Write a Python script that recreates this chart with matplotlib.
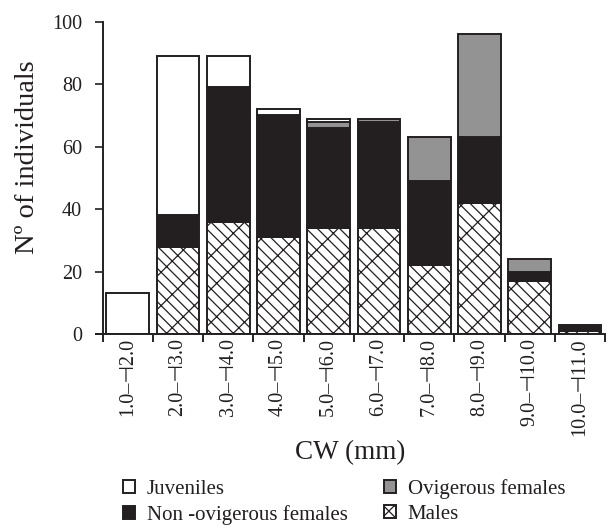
import numpy as np
import matplotlib

matplotlib.use("Agg")
import matplotlib.pyplot as plt
from matplotlib.patches import Patch

plt.rcParams["font.family"] = ["Liberation Serif", "DejaVu Sans"]
plt.rcParams["hatch.linewidth"] = 0.9

classes = ["1.0\u2013\u22a32.0", "2.0\u2013\u22a33.0", "3.0\u2013\u22a34.0", "4.0\u2013\u22a35.0",
           "5.0\u2013\u22a36.0", "6.0\u2013\u22a37.0", "7.0\u2013\u22a38.0", "8.0\u2013\u22a39.0",
           "9.0\u2013\u22a310.0", "10.0\u2013\u22a311.0"]
males = [0, 28, 36, 31, 34, 34, 22, 42, 17, 1]
non_ovigerous = [0, 10, 43, 39, 32, 34, 27, 21, 3, 2]
ovigerous = [0, 0, 0, 0, 2, 1, 14, 33, 4, 0]
juveniles = [13, 51, 10, 2, 1, 0, 0, 0, 0, 0]

EDGE = "#231f20"
BLACK = "#231f20"
GREY = "#939393"

fig = plt.figure(figsize=(6.11, 5.26), dpi=100)
ax = fig.add_axes([0.1566, 0.365, 0.8336, 0.5935])

x = np.arange(len(classes)) + 0.5
width = 0.85
bottom = np.zeros(len(classes))
layers = [
    (males, "white", "\\\\\\/"),
    (non_ovigerous, BLACK, None),
    (ovigerous, GREY, None),
    (juveniles, "white", None),
]
for values, face, hatch in layers:
    values = np.array(values, dtype=float)
    keep = values > 0
    ax.bar(x[keep], values[keep], width, bottom=bottom[keep], color=face,
           edgecolor=EDGE, linewidth=1.4, hatch=hatch, zorder=2)
    bottom += values

ax.set_xlim(-0.14, 10.0)
ax.set_ylim(0, 100)
ax.spines["top"].set_visible(False)
ax.spines["right"].set_visible(False)
ax.spines["left"].set_position(("data", 0))
for side in ("left", "bottom"):
    ax.spines[side].set_linewidth(1.4)
    ax.spines[side].set_color(EDGE)

ax.set_yticks(range(0, 101, 20))
ax.tick_params(axis="y", direction="out", length=6, width=1.2, labelsize=14.5,
               pad=9, colors="#231f20")
ax.set_xticks(np.arange(0, 11))
ax.set_xticklabels([])
ax.set_xticks(x, minor=True)
ax.set_xticklabels(classes, minor=True, rotation=90, fontsize=14.5)
ax.tick_params(axis="x", which="major", direction="out", length=6, width=1.2)
ax.tick_params(axis="x", which="minor", length=0, pad=3, colors="#231f20")

ax.set_ylabel("N\u00ba of individuals", fontsize=20.5, color="#231f20")
ax.yaxis.set_label_coords(-0.109, 0.567)
fig.text(0.573, 0.139, "CW (mm)", fontsize=19.5, ha="center", va="center",
         color="#231f20")

handles = [
    Patch(facecolor="white", edgecolor=EDGE, linewidth=1.4, label="Juveniles"),
    Patch(facecolor=BLACK, edgecolor=EDGE, linewidth=1.4, label="Non -ovigerous females"),
    Patch(facecolor=GREY, edgecolor=EDGE, linewidth=1.4, label="Ovigerous females"),
    Patch(facecolor="white", edgecolor=EDGE, linewidth=1.4, hatch="\\\\\\/", label="Males"),
]
fig.legend(handles=handles, ncol=2, loc="lower left", bbox_to_anchor=(0.17, -0.033),
           frameon=False, fontsize=15, handlelength=0.6, handleheight=0.6,
           handletextpad=0.55, columnspacing=1.75, labelspacing=0.28,
           labelcolor="#231f20")

fig.savefig("out.png", dpi=100)
